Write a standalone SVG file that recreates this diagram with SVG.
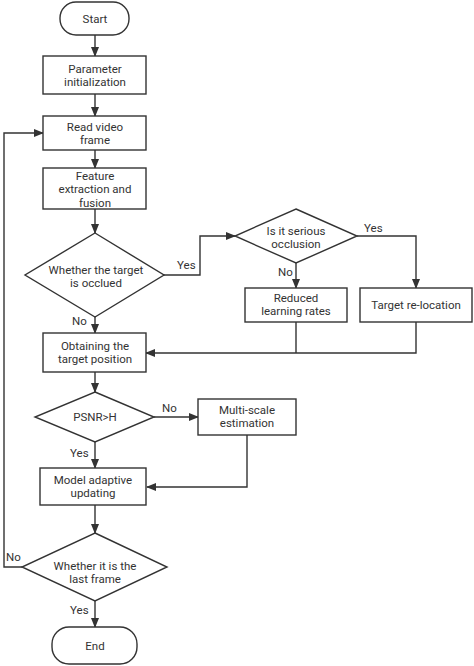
<svg xmlns="http://www.w3.org/2000/svg" width="474" height="666" viewBox="0 0 474 666">
<style>
.s{fill:#fff;stroke:#333;stroke-width:1.4}
.t{font-family:Roboto,"Noto Sans",sans-serif;font-size:11.5px;fill:#333;text-anchor:middle}
.l{font-family:Roboto,"Noto Sans",sans-serif;font-size:11.5px;fill:#333}
.c{fill:none;stroke:#333;stroke-width:1.4}
</style>
<defs>
<marker id="a" markerWidth="10" markerHeight="8" refX="9" refY="4" orient="auto" markerUnits="userSpaceOnUse">
<path d="M0,0 L10,4 L0,8 Z" fill="#333"/>
</marker>
</defs>
<rect width="474" height="666" fill="#fff"/>
<g id="connectors">
<path class="c" d="M95,35 V56" marker-end="url(#a)"/>
<path class="c" d="M95,94 V116" marker-end="url(#a)"/>
<path class="c" d="M95,150 V168" marker-end="url(#a)"/>
<path class="c" d="M95,209 V233" marker-end="url(#a)"/>
<path class="c" d="M164,275 H200 V236 H235" marker-end="url(#a)"/>
<path class="c" d="M296,263 V288" marker-end="url(#a)"/>
<path class="c" d="M357,236 H416 V288" marker-end="url(#a)"/>
<path class="c" d="M296,322 V353"/>
<path class="c" d="M416,322 V353 H146" marker-end="url(#a)"/>
<path class="c" d="M95,317 V333" marker-end="url(#a)"/>
<path class="c" d="M95,372 V392" marker-end="url(#a)"/>
<path class="c" d="M154,417 H198" marker-end="url(#a)"/>
<path class="c" d="M95,442 V468" marker-end="url(#a)"/>
<path class="c" d="M247,435 V487 H147" marker-end="url(#a)"/>
<path class="c" d="M95,505 V533" marker-end="url(#a)"/>
<path class="c" d="M22,567 H4 V133 H43" marker-end="url(#a)"/>
<path class="c" d="M95,601 V627" marker-end="url(#a)"/>
<text class="l" x="177" y="269">Yes</text>
<text class="l" x="364" y="232">Yes</text>
<text class="l" x="278" y="276">No</text>
<text class="l" x="72" y="325">No</text>
<text class="l" x="162" y="412">No</text>
<text class="l" x="70" y="457">Yes</text>
<text class="l" x="6" y="561">No</text>
<text class="l" x="70" y="614">Yes</text>
</g>
<g id="start">
<rect class="s" x="60" y="2" width="69" height="33" rx="16"/>
<text class="t" x="95" y="23">Start</text>
</g>
<g id="param">
<rect class="s" x="43" y="56" width="103" height="38"/>
<text class="t" x="95" y="72.5">Parameter</text>
<text class="t" x="95" y="86">initialization</text>
</g>
<g id="read">
<rect class="s" x="43" y="116" width="103" height="34"/>
<text class="t" x="95" y="130.5">Read video</text>
<text class="t" x="95" y="144">frame</text>
</g>
<g id="feature">
<rect class="s" x="43" y="168" width="103" height="41"/>
<text class="t" x="95" y="179.5">Feature</text>
<text class="t" x="95" y="193">extraction and</text>
<text class="t" x="95" y="206.5">fusion</text>
</g>
<g id="occluded">
<path class="s" d="M95,233 L164,275 L95,317 L25,275 Z"/>
<text class="t" x="96" y="273.5">Whether the target</text>
<text class="t" x="96" y="287">is occlued</text>
</g>
<g id="serious">
<path class="s" d="M296,209 L357,236 L296,263 L235,236 Z"/>
<text class="t" x="296" y="234.5">Is it serious</text>
<text class="t" x="296" y="248">occlusion</text>
</g>
<g id="reduced">
<rect class="s" x="245" y="288" width="102" height="34"/>
<text class="t" x="296" y="301.5">Reduced</text>
<text class="t" x="296" y="315">learning rates</text>
</g>
<g id="relocation">
<rect class="s" x="360" y="288" width="112" height="34"/>
<text class="t" x="416" y="309">Target re-location</text>
</g>
<g id="obtain">
<rect class="s" x="43" y="333" width="103" height="39"/>
<text class="t" x="95" y="349.5">Obtaining the</text>
<text class="t" x="95" y="363">target position</text>
</g>
<g id="psnr">
<path class="s" d="M95,392 L154,417 L95,442 L35,417 Z"/>
<text class="t" x="95" y="421">PSNR&gt;H</text>
</g>
<g id="multiscale">
<rect class="s" x="198" y="399" width="98" height="36"/>
<text class="t" x="247" y="413.5">Multi-scale</text>
<text class="t" x="247" y="427">estimation</text>
</g>
<g id="model">
<rect class="s" x="40" y="468" width="106" height="37"/>
<text class="t" x="93" y="483.5">Model adaptive</text>
<text class="t" x="93" y="497">updating</text>
</g>
<g id="last">
<path class="s" d="M95,533 L167,567 L95,601 L22,567 Z"/>
<text class="t" x="95" y="569.5">Whether it is the</text>
<text class="t" x="95" y="583">last frame</text>
</g>
<g id="end">
<rect class="s" x="52" y="627" width="85" height="37" rx="17"/>
<text class="t" x="95" y="650">End</text>
</g>
</svg>
